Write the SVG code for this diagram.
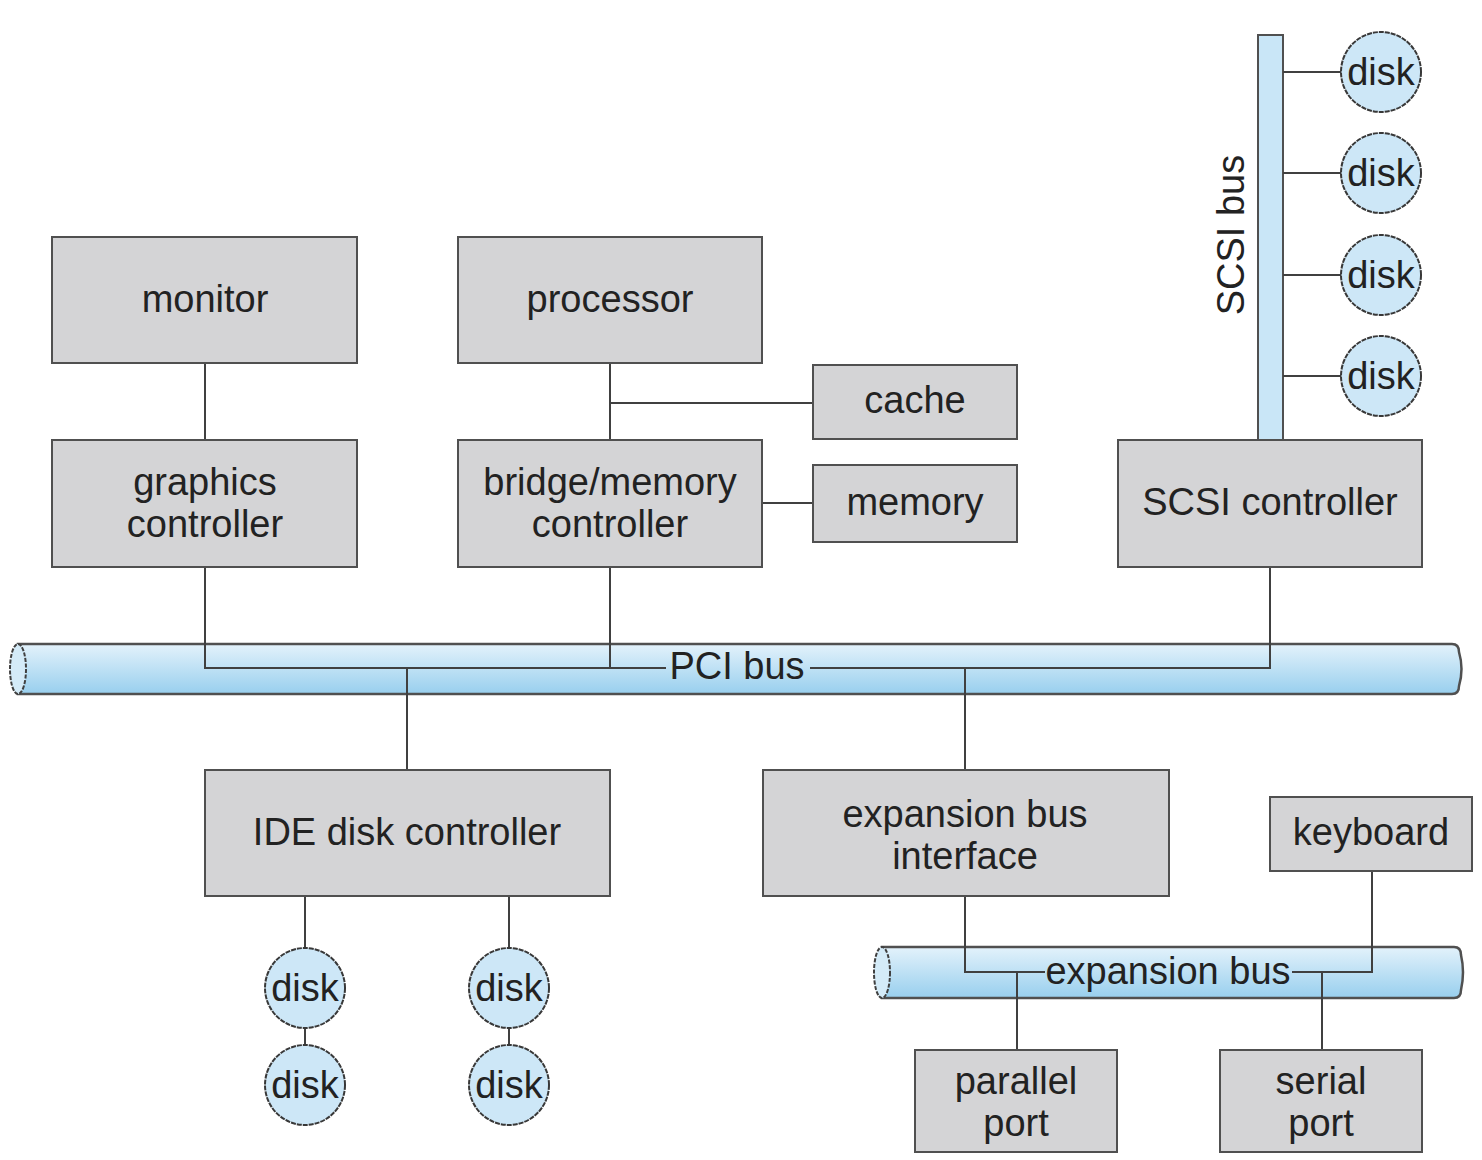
<svg xmlns="http://www.w3.org/2000/svg" width="1482" height="1160" viewBox="0 0 1482 1160">
<defs>
<linearGradient id="busg" x1="0" y1="0" x2="0" y2="1">
<stop offset="0" stop-color="#e3f2fb"/>
<stop offset="1" stop-color="#98cfee"/>
</linearGradient>
<style>
.box{fill:#d4d4d6;stroke:#505050;stroke-width:2}
.disk{fill:#cde7f7;stroke:#383838;stroke-width:2;stroke-dasharray:5 1}
.bus{fill:url(#busg);stroke:#505050;stroke-width:2.5}
.end{fill:#d4ebf8;stroke:#404040;stroke-width:2;stroke-dasharray:4 1.5}
.ln{fill:none;stroke:#404040;stroke-width:2}
text{font-family:"Liberation Sans",Arial,sans-serif;font-size:38px;fill:#222;text-anchor:middle}
</style>
</defs>
<rect width="1482" height="1160" fill="#fff"/>

<g id="pci-bus">
<path class="bus" d="M18,644 H1452 Q1459,644 1459,652 Q1464,669 1459,686 Q1459,694 1452,694 H18 Z"/>
<ellipse class="end" cx="18" cy="669" rx="8" ry="25"/>
</g>
<g id="expansion-bus">
<path class="bus" d="M882,947 H1454 Q1461,947 1461,955 Q1465,972 1461,990 Q1461,998 1454,998 H882 Z"/>
<ellipse class="end" cx="882" cy="972.5" rx="8" ry="25.5"/>
</g>
<g id="scsi-bus">
<rect x="1258" y="35" width="25" height="405" fill="#c9e6f7" stroke="#505050" stroke-width="2"/>
<text transform="translate(1244,235) rotate(-90)">SCSI bus</text>
</g>

<g id="connectors">
<path class="ln" d="M205,363 V440"/>
<path class="ln" d="M610,363 V440 M610,403 H813"/>
<path class="ln" d="M762,503 H813"/>
<path class="ln" d="M205,567 V668 H666"/>
<path class="ln" d="M610,567 V668"/>
<path class="ln" d="M810,668 H1270 V567"/>
<path class="ln" d="M407,668 V770"/>
<path class="ln" d="M965,668 V770"/>
<path class="ln" d="M1283,72 H1341 M1283,173 H1341 M1283,275 H1341 M1283,376 H1341"/>
<path class="ln" d="M305,896 V948 M305,1028 V1045 M509,896 V948 M509,1028 V1045"/>
<path class="ln" d="M965,896 V972 H1045"/>
<path class="ln" d="M1292,972 H1372 V871"/>
<path class="ln" d="M1017,972 V1050"/>
<path class="ln" d="M1322,972 V1050"/>
<text x="737" y="679">PCI bus</text>
<text x="1168" y="984">expansion bus</text>
</g>

<g id="monitor"><rect class="box" x="52" y="237" width="305" height="126"/><text x="205" y="312">monitor</text></g>
<g id="processor"><rect class="box" x="458" y="237" width="304" height="126"/><text x="610" y="312">processor</text></g>
<g id="cache"><rect class="box" x="813" y="365" width="204" height="74"/><text x="915" y="413">cache</text></g>
<g id="memory"><rect class="box" x="813" y="465" width="204" height="77"/><text x="915" y="515">memory</text></g>
<g id="graphics-controller"><rect class="box" x="52" y="440" width="305" height="127"/><text x="205" y="495">graphics</text><text x="205" y="537">controller</text></g>
<g id="bridge-memory-controller"><rect class="box" x="458" y="440" width="304" height="127"/><text x="610" y="495">bridge/memory</text><text x="610" y="537">controller</text></g>
<g id="scsi-controller"><rect class="box" x="1118" y="440" width="304" height="127"/><text x="1270" y="515">SCSI controller</text></g>
<g id="ide-disk-controller"><rect class="box" x="205" y="770" width="405" height="126"/><text x="407" y="845">IDE disk controller</text></g>
<g id="expansion-bus-interface"><rect class="box" x="763" y="770" width="406" height="126"/><text x="965" y="827">expansion bus</text><text x="965" y="869">interface</text></g>
<g id="keyboard"><rect class="box" x="1270" y="797" width="202" height="74"/><text x="1371" y="845">keyboard</text></g>
<g id="parallel-port"><rect class="box" x="915" y="1050" width="202" height="102"/><text x="1016" y="1094">parallel</text><text x="1016" y="1136">port</text></g>
<g id="serial-port"><rect class="box" x="1220" y="1050" width="202" height="102"/><text x="1321" y="1094">serial</text><text x="1321" y="1136">port</text></g>

<g id="scsi-disk-1"><circle class="disk" cx="1381" cy="72" r="40"/><text x="1381" y="85">disk</text></g>
<g id="scsi-disk-2"><circle class="disk" cx="1381" cy="173" r="40"/><text x="1381" y="186">disk</text></g>
<g id="scsi-disk-3"><circle class="disk" cx="1381" cy="275" r="40"/><text x="1381" y="288">disk</text></g>
<g id="scsi-disk-4"><circle class="disk" cx="1381" cy="376" r="40"/><text x="1381" y="389">disk</text></g>
<g id="ide-disk-1"><circle class="disk" cx="305" cy="988" r="40"/><text x="305" y="1001">disk</text></g>
<g id="ide-disk-2"><circle class="disk" cx="305" cy="1085" r="40"/><text x="305" y="1098">disk</text></g>
<g id="ide-disk-3"><circle class="disk" cx="509" cy="988" r="40"/><text x="509" y="1001">disk</text></g>
<g id="ide-disk-4"><circle class="disk" cx="509" cy="1085" r="40"/><text x="509" y="1098">disk</text></g>
</svg>
